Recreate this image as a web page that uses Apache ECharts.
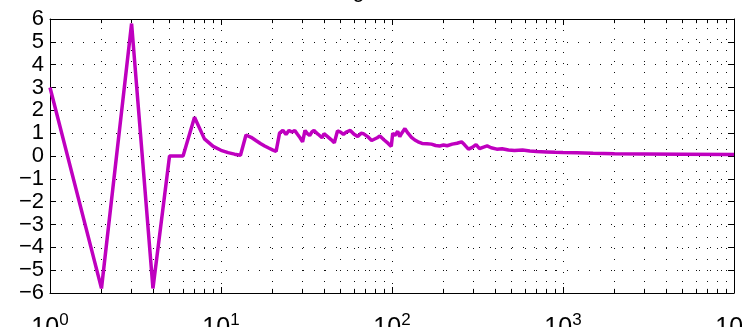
<!DOCTYPE html>
<html>
<head>
<meta charset="utf-8">
<script src="https://cdn.jsdelivr.net/npm/echarts@6/dist/echarts.min.js"></script>
<style>html,body{margin:0;padding:0;background:#fff}#c{width:742px;height:327px}</style>
</head>
<body>
<div id="c"></div>
<script>
// ---- data ----
var xValues = [1,2,3,4,5,6,7,8,9,10,11,12,13,14,15,16,17,18,19,20,21,22,23,24,25,26,27,28,29,30,31,32,33,34,35,36,37,38,39,40,41,42,44,46,47,48,50,52,54,57,60,63,66,68,72,76,78,82,85,90,95,99,101,104,108,111,114,119,124,130,136,142,150,160,170,180,190,200,210,225,240,255,265,280,295,310,325,340,360,380,410,440,480,520,580,640,700,800,900,1000,1200,1500,2000,3000,5000,10000];
var yValues = [3,-5.8,5.8,-5.8,0,0,1.7,0.75,0.42,0.25,0.15,0.08,0.03,0.92,0.82,0.68,0.55,0.44,0.35,0.27,0.2,1.0,1.12,0.95,1.12,1.05,1.12,0.95,0.8,0.62,1.12,0.98,0.9,1.05,1.12,1.02,0.95,0.88,0.8,0.98,0.92,0.85,0.72,0.58,0.55,1.1,1.05,0.95,1.05,1.12,0.95,0.85,1.0,0.98,0.85,0.68,0.62,0.8,0.88,0.7,0.55,0.42,1.0,0.9,1.08,0.85,1.0,1.2,1.0,0.82,0.7,0.62,0.55,0.54,0.52,0.46,0.44,0.48,0.45,0.52,0.56,0.62,0.5,0.3,0.38,0.5,0.32,0.38,0.44,0.36,0.3,0.32,0.26,0.24,0.26,0.22,0.2,0.18,0.16,0.15,0.14,0.12,0.1,0.09,0.08,0.07];
var xMin = 1, xMax = 10000;
var yMin = -6, yMax = 6, yStep = 1;
var titleText = 'Signal error';

// ---- build ----
var seriesData = xValues.map(function (x, i) { return [x, yValues[i]]; });
var minorVals = [];
for (var d = 1; d < xMax; d *= 10) { for (var m = 2; m <= 9; m++) minorVals.push(m * d); }

var dotted = { color: '#111', width: 1, type: [1, 10] };
var gridLines = minorVals.map(function (v) { return { xAxis: v }; });
var tickLen = 0.18;
var minorTicks = [];
minorVals.forEach(function (v) {
  minorTicks.push([{ coord: [v, yMin] }, { coord: [v, yMin + tickLen] }]);
  minorTicks.push([{ coord: [v, yMax] }, { coord: [v, yMax - tickLen] }]);
});

var font = 'Liberation Sans';
var chart = echarts.init(document.getElementById('c'), null, { renderer: 'canvas' });
chart.setOption({
  animation: false,
  backgroundColor: '#fff',
  graphic: [{
    type: 'text', left: 333, top: -20,
    style: { text: titleText, font: '22px "Liberation Sans"', fill: '#000' }
  }],
  grid: { left: 50, right: 8, top: 19, bottom: 34, containLabel: false, outerBoundsMode: 'none' },
  xAxis: [{
    type: 'log', logBase: 10, min: xMin, max: xMax, position: 'bottom',
    axisLine: { show: true, onZero: false, lineStyle: { color: '#000', width: 1 } },
    axisTick: { show: true, inside: true, length: 6, lineStyle: { color: '#000' } },
    splitLine: { show: true, lineStyle: dotted },
    axisLabel: {
      show: true, margin: 19, color: '#000', fontFamily: font, hideOverlap: false,
      showMinLabel: true, showMaxLabel: true,
      formatter: function (v) { return '{a|10}{s|' + Math.round(Math.log10(v)) + '}'; },
      rich: {
        a: { fontSize: 25, fontFamily: font, color: '#000', verticalAlign: 'bottom' },
        s: { fontSize: 17, fontFamily: font, color: '#000', verticalAlign: 'bottom', padding: [0, 0, 12, 0] }
      }
    }
  }, {
    type: 'log', logBase: 10, min: xMin, max: xMax, position: 'top',
    axisLine: { show: true, onZero: false, lineStyle: { color: '#000', width: 1 } },
    axisTick: { show: true, inside: true, length: 6, lineStyle: { color: '#000' } },
    splitLine: { show: false }, axisLabel: { show: false }
  }],
  yAxis: [{
    type: 'value', min: yMin, max: yMax, interval: yStep, position: 'left',
    axisLine: { show: true, onZero: false, lineStyle: { color: '#000', width: 1 } },
    axisTick: { show: true, inside: true, length: 6, lineStyle: { color: '#000' } },
    splitLine: { show: true, lineStyle: dotted },
    axisLabel: {
      show: true, margin: 6, color: '#000', fontSize: 22, fontFamily: font, hideOverlap: false,
      showMinLabel: true, showMaxLabel: true,
      formatter: function (v) { return String(v).replace('-', '\u2212'); }
    }
  }, {
    type: 'value', min: yMin, max: yMax, interval: yStep, position: 'right',
    axisLine: { show: true, onZero: false, lineStyle: { color: '#000', width: 1 } },
    axisTick: { show: true, inside: true, length: 6, lineStyle: { color: '#000' } },
    splitLine: { show: false }, axisLabel: { show: false }
  }],
  series: [{
    type: 'line', data: [], z: 1, silent: true,
    markLine: {
      silent: true, symbol: ['none', 'none'], label: { show: false }, animation: false,
      lineStyle: dotted,
      data: gridLines
    }
  }, {
    type: 'line', data: [], z: 1, silent: true,
    markLine: {
      silent: true, symbol: ['none', 'none'], label: { show: false }, animation: false,
      lineStyle: { color: '#000', width: 1, type: 'solid' },
      data: minorTicks
    }
  }, {
    type: 'line', data: seriesData, z: 5, showSymbol: false, symbol: 'none',
    lineStyle: { color: '#BF00BF', width: 3.5 }, clip: true
  }]
});
</script>
</body>
</html>
